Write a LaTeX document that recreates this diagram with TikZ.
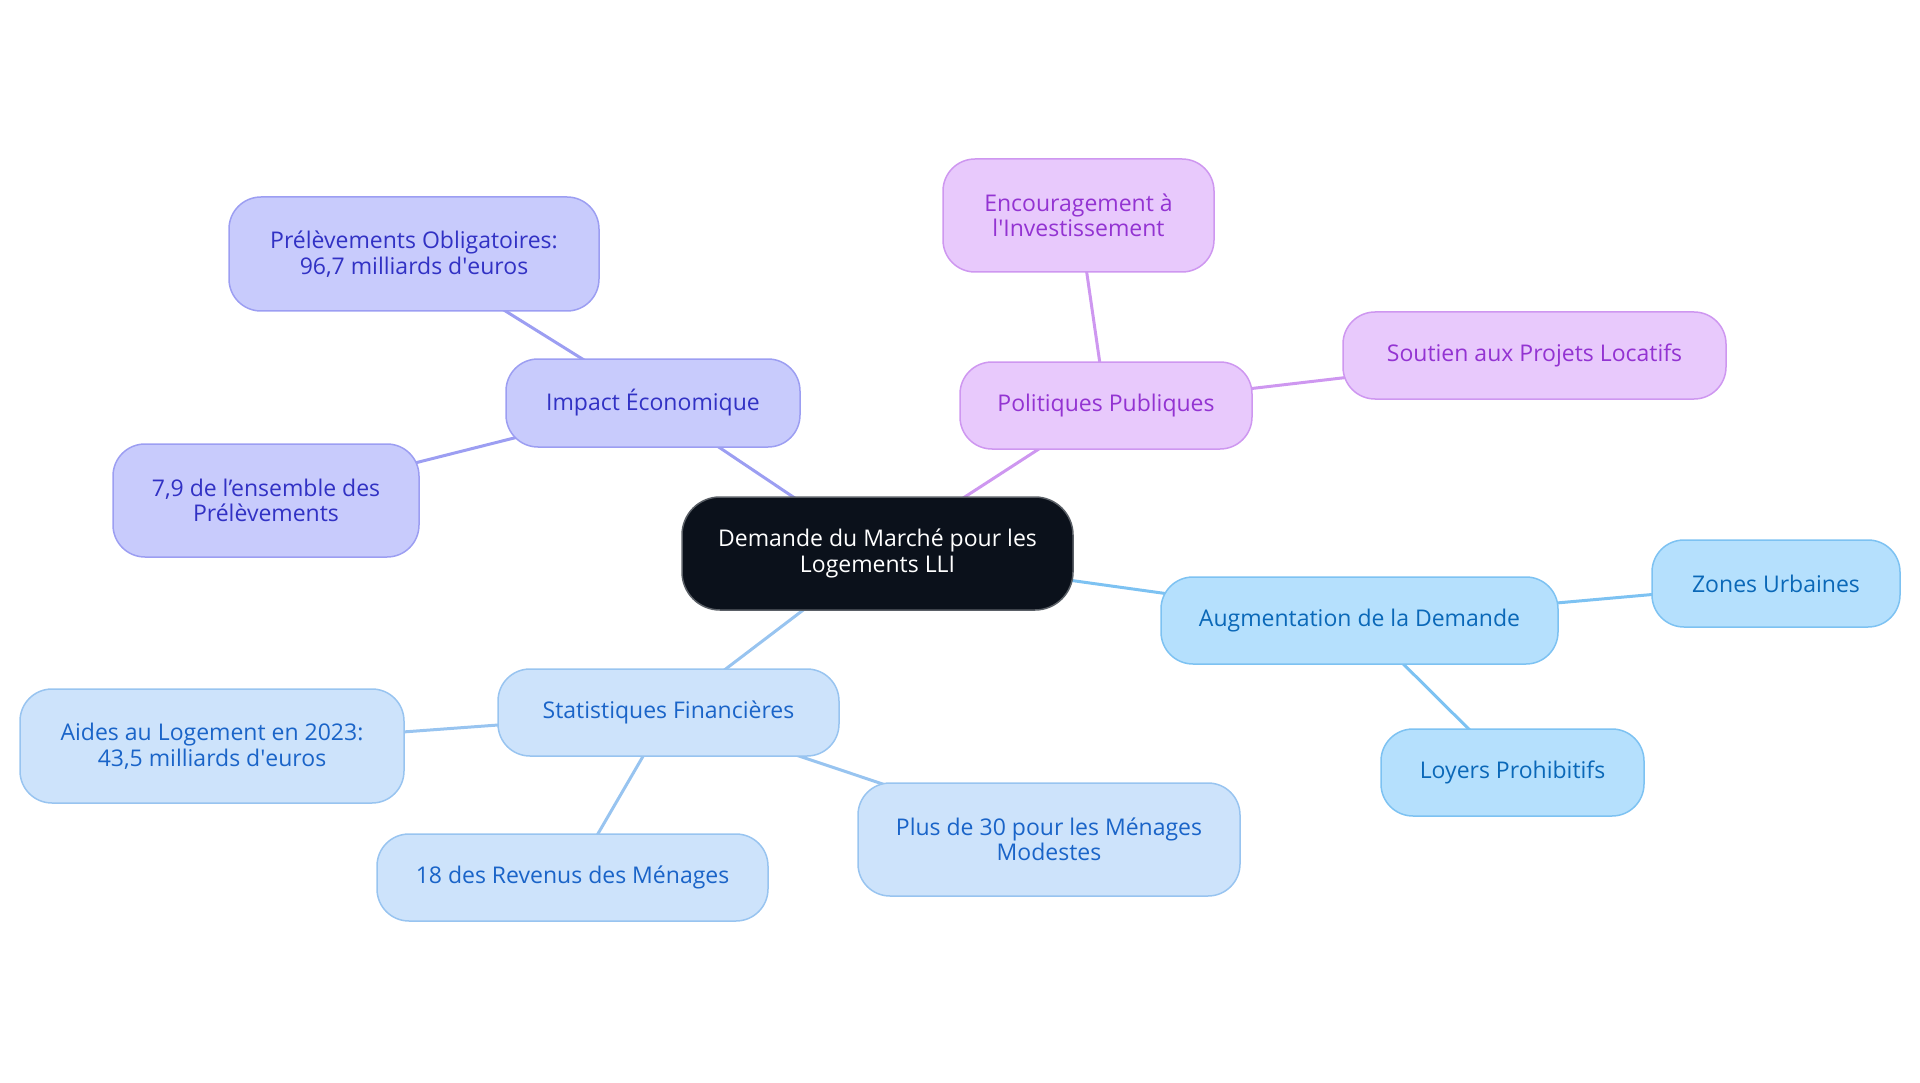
\documentclass[tikz,border=0pt]{standalone}
\usepackage{fontspec}
\setmainfont{Open Sans}
\pgfdeclarelayer{bg}
\pgfsetlayers{bg,main}
\definecolor{cfill}{HTML}{0B111B}
\definecolor{cdraw}{HTML}{5A5F66}
\definecolor{ifill}{HTML}{C8CBFC}
\definecolor{idraw}{HTML}{9C9EF2}
\definecolor{itext}{HTML}{3131C4}
\definecolor{vfill}{HTML}{E8C9FC}
\definecolor{vdraw}{HTML}{CE97F0}
\definecolor{vtext}{HTML}{9333D2}
\definecolor{sfill}{HTML}{B5E0FD}
\definecolor{sdraw}{HTML}{7DC2F2}
\definecolor{stext}{HTML}{0A68B8}
\definecolor{pfill}{HTML}{CDE3FB}
\definecolor{pdraw}{HTML}{98C4F0}
\definecolor{ptext}{HTML}{1A64C8}
\tikzset{
  base/.style={rectangle, rounded corners=32pt, line width=1.5pt, align=center,
    inner sep=0pt, font=\fontsize{23}{25.5}\selectfont},
  centre/.style={base, fill=cfill, draw=cdraw, text=white, rounded corners=38pt},
  indigo/.style={base, fill=ifill, draw=idraw, text=itext},
  violet/.style={base, fill=vfill, draw=vdraw, text=vtext},
  sky/.style={base, fill=sfill, draw=sdraw, text=stext},
  pale/.style={base, fill=pfill, draw=pdraw, text=ptext},
  link/.style={line width=3pt},
}
\begin{document}
\begin{tikzpicture}[x=1pt,y=-1pt]
\useasboundingbox (0,0) rectangle (1920,1083);
\node[centre, minimum width=391pt, minimum height=113pt] (c) at (877.5,553.5) {Demande du Marché pour les\\Logements LLI};
\node[indigo, minimum width=294pt, minimum height=88pt] (imp) at (653,403) {Impact Économique};
\node[indigo, minimum width=370pt, minimum height=114pt] (prel) at (414,254) {Prélèvements Obligatoires:\\96,7 milliards d\textquotesingle euros};
\node[indigo, minimum width=306pt, minimum height=113pt] (sept) at (266,500.5) {7,9 de l’ensemble des\\Prélèvements};
\node[violet, minimum width=292pt, minimum height=87pt] (pol) at (1106,405.5) {Politiques Publiques};
\node[violet, minimum width=271pt, minimum height=113pt] (enc) at (1078.5,215.5) {Encouragement à\\l\textquotesingle Investissement};
\node[violet, minimum width=383pt, minimum height=87pt] (sou) at (1534.5,355.5) {Soutien aux Projets Locatifs};
\node[sky, minimum width=397pt, minimum height=87pt] (aug) at (1359.5,620.5) {Augmentation de la Demande};
\node[sky, minimum width=248pt, minimum height=87pt] (zon) at (1776,583.5) {Zones Urbaines};
\node[sky, minimum width=263pt, minimum height=87pt] (loy) at (1512.5,772.5) {Loyers Prohibitifs};
\node[pale, minimum width=341pt, minimum height=87pt] (sta) at (668.5,712.5) {Statistiques Financières};
\node[pale, minimum width=384pt, minimum height=114pt] (aid) at (212,746) {Aides au Logement en 2023:\\43,5 milliards d\textquotesingle euros};
\node[pale, minimum width=391pt, minimum height=87pt] (dix) at (572.5,877.5) {18 des Revenus des Ménages};
\node[pale, minimum width=382pt, minimum height=113pt] (plu) at (1049,839.5) {Plus de 30 pour les Ménages\\Modestes};
\begin{pgfonlayer}{bg}
\draw[link, draw=idraw] (c.center) -- (imp.center);
\draw[link, draw=idraw] (imp.center) -- (prel.center);
\draw[link, draw=idraw] (imp.center) -- (sept.center);
\draw[link, draw=vdraw] (c.center) -- (pol.center);
\draw[link, draw=vdraw] (pol.center) -- (enc.center);
\draw[link, draw=vdraw] (pol.center) -- (sou.center);
\draw[link, draw=sdraw] (c.center) -- (aug.center);
\draw[link, draw=sdraw] (aug.center) -- (zon.center);
\draw[link, draw=sdraw] (aug.center) -- (loy.center);
\draw[link, draw=pdraw] (c.center) -- (sta.center);
\draw[link, draw=pdraw] (sta.center) -- (aid.center);
\draw[link, draw=pdraw] (sta.center) -- (dix.center);
\draw[link, draw=pdraw] (sta.center) -- (plu.center);
\end{pgfonlayer}
\end{tikzpicture}
\end{document}
